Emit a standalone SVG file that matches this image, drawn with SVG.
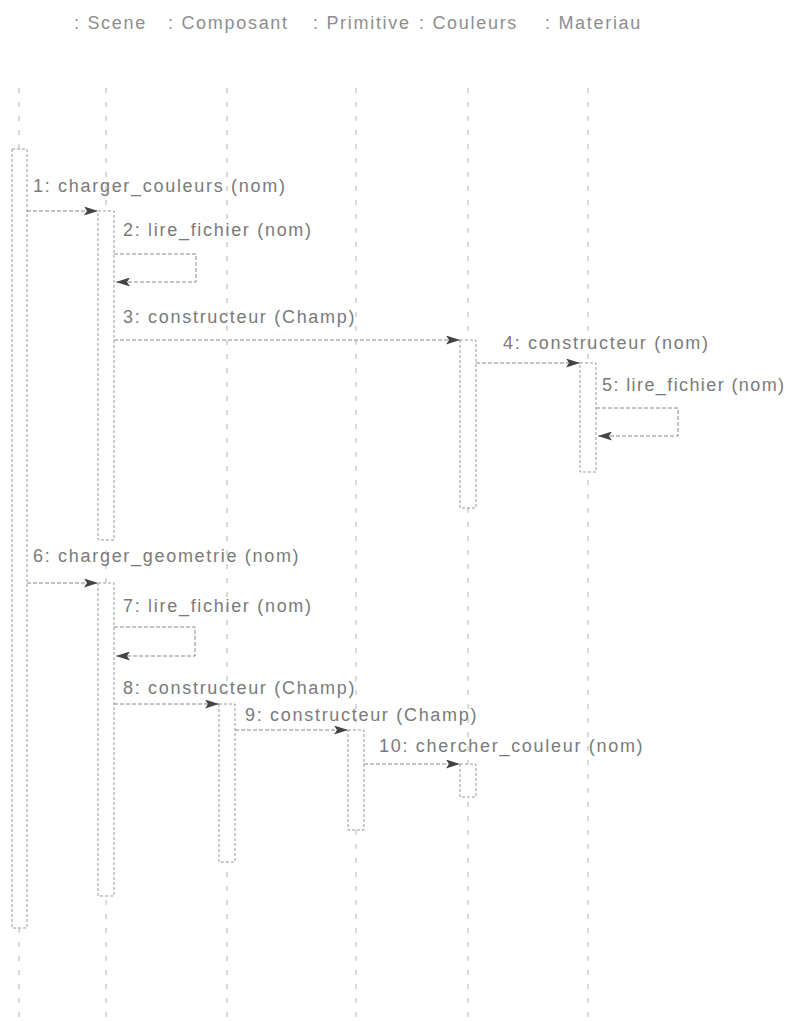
<svg xmlns="http://www.w3.org/2000/svg" width="793" height="1021" viewBox="0 0 793 1021">
<defs>
<style>
.hdr{font-family:"Liberation Sans",Arial,sans-serif;font-size:18px;letter-spacing:1.7px;fill:#8e8e8e}
.lbl{font-family:"Liberation Sans",Arial,sans-serif;font-size:18px;letter-spacing:1.7px;fill:#7a7a7a}
.life{stroke:#b4b4b4;stroke-width:1;stroke-dasharray:5 9;fill:none}
.act{fill:#fff;stroke:#9a9a9a;stroke-width:1;stroke-dasharray:3 2}
.msg{fill:none;stroke:#8a8a8a;stroke-width:1;stroke-dasharray:4 2}
</style>
<marker id="ah" markerUnits="userSpaceOnUse" markerWidth="15" markerHeight="9" refX="14" refY="4.5" orient="auto">
<path d="M0,0 L14,4.5 L0,9 L3,4.5 z" fill="#444"/>
</marker>
</defs>
<rect width="793" height="1021" fill="#fff"/>
<g id="header">
<text class="hdr" x="74" y="29">: Scene</text>
<text class="hdr" x="168" y="29">: Composant</text>
<text class="hdr" x="313" y="29">: Primitive</text>
<text class="hdr" x="419" y="29">: Couleurs</text>
<text class="hdr" x="545" y="29">: Materiau</text>
</g>
<g id="scene">
<line class="life" x1="19" y1="88" x2="19" y2="1021"/>
<rect class="act" x="12" y="149" width="15" height="779"/>
</g>
<g id="composant">
<line class="life" x1="106" y1="88" x2="106" y2="1021"/>
<rect class="act" x="98" y="211" width="16" height="329"/>
<rect class="act" x="98" y="583" width="16" height="313"/>
</g>
<g id="primitive">
<line class="life" x1="227" y1="88" x2="227" y2="1021"/>
<rect class="act" x="219" y="704" width="16" height="158"/>
</g>
<g id="couleurs">
<line class="life" x1="356" y1="88" x2="356" y2="1021"/>
<rect class="act" x="348" y="730" width="16" height="100"/>
</g>
<g id="materiau">
<line class="life" x1="468" y1="88" x2="468" y2="1021"/>
<rect class="act" x="460" y="340" width="16" height="168"/>
<rect class="act" x="460" y="764" width="16" height="33"/>
</g>
<g id="object6">
<line class="life" x1="588" y1="88" x2="588" y2="1021"/>
<rect class="act" x="580" y="363" width="16" height="109"/>
</g>
<g id="connectors">
<line class="msg" x1="27" y1="211" x2="98" y2="211" marker-end="url(#ah)"/>
<text class="lbl" x="33" y="192">1: charger_couleurs (nom)</text>
<path class="msg" d="M114,254 H196 V282 H116" marker-end="url(#ah)"/>
<text class="lbl" x="123" y="236">2: lire_fichier (nom)</text>
<line class="msg" x1="114" y1="340" x2="460" y2="340" marker-end="url(#ah)"/>
<text class="lbl" x="123" y="323">3: constructeur (Champ)</text>
<line class="msg" x1="476" y1="363" x2="580" y2="363" marker-end="url(#ah)"/>
<text class="lbl" x="503" y="349">4: constructeur (nom)</text>
<path class="msg" d="M596,408 H678 V436 H598" marker-end="url(#ah)"/>
<text class="lbl" x="602" y="391" style="letter-spacing:1.4px">5: lire_fichier (nom)</text>
<line class="msg" x1="27" y1="583" x2="98" y2="583" marker-end="url(#ah)"/>
<text class="lbl" x="33" y="562">6: charger_geometrie (nom)</text>
<path class="msg" d="M114,627 H195 V656 H116" marker-end="url(#ah)"/>
<text class="lbl" x="123" y="612">7: lire_fichier (nom)</text>
<line class="msg" x1="114" y1="704" x2="219" y2="704" marker-end="url(#ah)"/>
<text class="lbl" x="123" y="694">8: constructeur (Champ)</text>
<line class="msg" x1="235" y1="730" x2="348" y2="730" marker-end="url(#ah)"/>
<text class="lbl" x="245" y="721">9: constructeur (Champ)</text>
<line class="msg" x1="364" y1="764" x2="460" y2="764" marker-end="url(#ah)"/>
<text class="lbl" x="379" y="752">10: chercher_couleur (nom)</text>
</g>
</svg>
